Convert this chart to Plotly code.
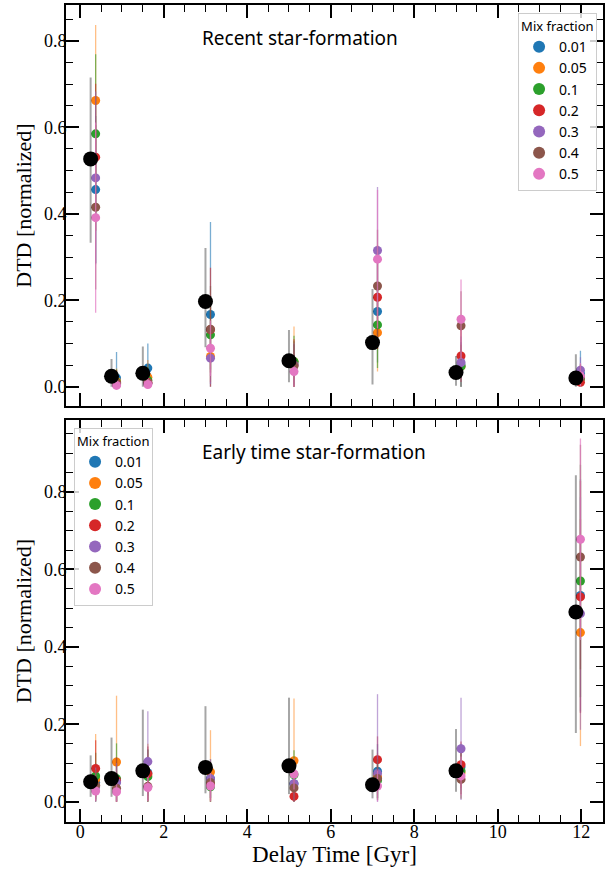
import plotly.graph_objects as go

# ---------------- data ----------------
mix_labels = ["0.01", "0.05", "0.1", "0.2", "0.3", "0.4", "0.5"]
mix_colors = ["#1f77b4", "#ff7f0e", "#2ca02c", "#d62728", "#9467bd", "#8c564b", "#e377c2"]
mix_err_colors = ["rgba(31,119,180,0.6)", "rgba(255,127,14,0.5)", "rgba(44,160,44,0.6)",
                  "rgba(214,39,40,0.6)", "rgba(148,103,189,0.6)", "rgba(140,86,75,0.6)",
                  "rgba(227,119,194,0.7)"]

x_black = [0.25, 0.75, 1.5, 3.0, 5.0, 7.0, 9.0, 11.87]
x_mix = [0.37, 0.87, 1.62, 3.12, 5.12, 7.12, 9.12, 11.98]

# Recent star-formation panel
black_recent = [0.527, 0.024, 0.031, 0.197, 0.060, 0.102, 0.033, 0.020]
black_recent_up = [0.188, 0.040, 0.062, 0.124, 0.071, 0.124, 0.038, 0.055]
black_recent_dn = [0.194, 0.024, 0.031, 0.106, 0.050, 0.097, 0.031, 0.020]

recent_001 = [0.456, 0.020, 0.043, 0.167, 0.055, 0.174, 0.050, 0.030]
recent_005 = [0.662, 0.012, 0.022, 0.070, 0.058, 0.125, 0.047, 0.020]
recent_01 = [0.585, 0.010, 0.015, 0.120, 0.058, 0.143, 0.047, 0.018]
recent_02 = [0.531, 0.008, 0.010, 0.132, 0.050, 0.207, 0.071, 0.010]
recent_03 = [0.483, 0.005, 0.008, 0.066, 0.050, 0.315, 0.056, 0.038]
recent_04 = [0.415, 0.006, 0.008, 0.133, 0.048, 0.233, 0.141, 0.022]
recent_05 = [0.391, 0.003, 0.005, 0.089, 0.035, 0.295, 0.156, 0.025]

recent_err_001 = [0.17, 0.060, 0.057, 0.214, 0.050, 0.118, 0.053, 0.053]
recent_err_005 = [0.175, 0.030, 0.040, 0.060, 0.081, 0.090, 0.050, 0.030]
recent_err_01 = [0.184, 0.030, 0.030, 0.080, 0.060, 0.100, 0.050, 0.030]
recent_err_02 = [0.170, 0.030, 0.030, 0.143, 0.060, 0.120, 0.060, 0.030]
recent_err_03 = [0.200, 0.020, 0.030, 0.060, 0.050, 0.147, 0.060, 0.030]
recent_err_04 = [0.190, 0.020, 0.030, 0.100, 0.050, 0.130, 0.080, 0.030]
recent_err_05 = [0.220, 0.020, 0.020, 0.064, 0.035, 0.160, 0.092, 0.030]

# Early time star-formation panel
black_early = [0.052, 0.060, 0.080, 0.089, 0.093, 0.044, 0.080, 0.490]
black_early_up = [0.068, 0.106, 0.158, 0.158, 0.176, 0.091, 0.108, 0.353]
black_early_dn = [0.039, 0.047, 0.065, 0.067, 0.073, 0.035, 0.054, 0.312]

early_001 = [0.050, 0.052, 0.075, 0.060, 0.047, 0.079, 0.090, 0.533]
early_005 = [0.058, 0.103, 0.070, 0.077, 0.106, 0.065, 0.075, 0.437]
early_01 = [0.067, 0.060, 0.065, 0.039, 0.070, 0.055, 0.080, 0.570]
early_02 = [0.086, 0.055, 0.073, 0.047, 0.014, 0.109, 0.096, 0.529]
early_03 = [0.039, 0.050, 0.104, 0.060, 0.047, 0.073, 0.137, 0.486]
early_04 = [0.043, 0.035, 0.040, 0.050, 0.036, 0.060, 0.058, 0.632]
early_05 = [0.028, 0.026, 0.037, 0.041, 0.072, 0.041, 0.067, 0.678]

early_err_001 = [0.050, 0.050, 0.060, 0.050, 0.060, 0.070, 0.060, 0.300]
early_err_005 = [0.117, 0.171, 0.080, 0.108, 0.161, 0.060, 0.056, 0.293]
early_err_01 = [0.060, 0.091, 0.070, 0.050, 0.063, 0.050, 0.060, 0.300]
early_err_02 = [0.073, 0.060, 0.070, 0.043, 0.040, 0.060, 0.060, 0.300]
early_err_03 = [0.050, 0.050, 0.130, 0.050, 0.050, 0.205, 0.132, 0.300]
early_err_04 = [0.040, 0.040, 0.050, 0.050, 0.040, 0.050, 0.050, 0.290]
early_err_05 = [0.025, 0.029, 0.035, 0.040, 0.040, 0.040, 0.050, 0.260]

recent_series = [recent_001, recent_005, recent_01, recent_02, recent_03, recent_04, recent_05]
recent_errs = [recent_err_001, recent_err_005, recent_err_01, recent_err_02, recent_err_03,
               recent_err_04, recent_err_05]
early_series = [early_001, early_005, early_01, early_02, early_03, early_04, early_05]
early_errs = [early_err_001, early_err_005, early_err_01, early_err_02, early_err_03,
              early_err_04, early_err_05]

# ---------------- figure ----------------
fig = go.Figure()

def add_panel(series, errs, bvals, bup, bdn, xa, ya, legend_name):
    for lab, col, ecol, ys, es in zip(mix_labels, mix_colors, mix_err_colors, series, errs):
        # DTD is non-negative: lower error bars stop at zero
        es_lo = [min(e, v) for e, v in zip(es, ys)]
        fig.add_trace(go.Scatter(
            x=x_mix, y=ys, mode="markers", name=lab, xaxis=xa, yaxis=ya,
            legend=legend_name,
            marker=dict(color=col, size=9, line=dict(width=0)),
            error_y=dict(type="data", array=es, arrayminus=es_lo, symmetric=False,
                         visible=True, color=ecol, thickness=1.3, width=0),
        ))
    fig.add_trace(go.Scatter(
        x=x_black, y=bvals, mode="markers", showlegend=False, xaxis=xa, yaxis=ya,
        marker=dict(color="black", size=15, line=dict(width=0)),
        error_y=dict(type="data", array=bup, arrayminus=bdn, symmetric=False,
                     visible=True, color="rgba(0,0,0,0.35)", thickness=2, width=0),
    ))

add_panel(recent_series, recent_errs, black_recent, black_recent_up, black_recent_dn,
          "x2", "y2", "legend")
add_panel(early_series, early_errs, black_early, black_early_up, black_early_dn,
          "x", "y", "legend2")

serif = "Liberation Serif"
sans = "Noto Sans"

axis_common = dict(
    showline=True, linecolor="black", linewidth=2, mirror="allticks",
    ticks="inside", ticklen=13, tickwidth=2, tickcolor="black",
    showgrid=False, zeroline=False, automargin=False,
    tickfont=dict(family=serif, size=18, color="black"),
)

x_minor = dict(ticks="inside", ticklen=7, tickwidth=1.3, tickcolor="black", dtick=0.5)
y_minor = dict(ticks="inside", ticklen=7, tickwidth=1.3, tickcolor="black", dtick=0.05)

legend_common = dict(
    xref="paper", yref="paper",
    bgcolor="rgba(255,255,255,0.8)", bordercolor="#cccccc", borderwidth=1,
    font=dict(family=sans, size=14, color="black"),
    title=dict(text="Mix fraction", font=dict(family=sans, size=13, color="black")),
    tracegroupgap=0, itemsizing="constant",
    entrywidth=48, entrywidthmode="pixels",
)

fig.update_layout(
    template="none",
    width=605, height=871,
    margin=dict(l=66, r=2, t=5, b=49),
    paper_bgcolor="white", plot_bgcolor="white",
    showlegend=True,
    xaxis=dict(domain=[0, 1], range=[-0.34, 12.52], tick0=0, dtick=2,
               anchor="y", minor=x_minor, ticklabelstandoff=-8,
               title=dict(text="Delay Time [Gyr]", font=dict(family=serif, size=23, color="black"),
                          standoff=4),
               **axis_common),
    yaxis=dict(domain=[0, 0.4917], range=[-0.052, 0.985], tick0=0, dtick=0.2,
               tickformat=".1f", anchor="x", minor=y_minor, ticklabelstandoff=-6,
               title=dict(text="DTD [normalized]", font=dict(family=serif, size=22, color="black"),
                          standoff=6),
               **axis_common),
    xaxis2=dict(domain=[0, 1], range=[-0.34, 12.52], tick0=0, dtick=2,
                anchor="y2", matches="x", showticklabels=False, minor=x_minor,
                **axis_common),
    yaxis2=dict(domain=[0.509, 1], range=[-0.045, 0.883], tick0=0, dtick=0.2,
                tickformat=".1f", anchor="x2", minor=y_minor, ticklabelstandoff=-6,
                title=dict(text="DTD [normalized]", font=dict(family=serif, size=22, color="black"),
                           standoff=6),
                **axis_common),
    legend=dict(x=0.989, y=0.990, xanchor="right", yanchor="top", **legend_common),
    legend2=dict(x=0.015, y=0.482, xanchor="left", yanchor="top", **legend_common),
    annotations=[
        dict(text="Recent star-formation", xref="x2 domain", yref="y2 domain",
             x=0.25, y=0.918, xanchor="left", yanchor="middle", showarrow=False,
             font=dict(family=sans, size=19, color="black")),
        dict(text="Early time star-formation", xref="x domain", yref="y domain",
             x=0.25, y=0.92, xanchor="left", yanchor="middle", showarrow=False,
             font=dict(family=sans, size=19, color="black")),
    ],
)

fig.write_html("out.html", config={"displayModeBar": False},
               post_script="document.body.style.margin='0';document.body.style.padding='0';")
